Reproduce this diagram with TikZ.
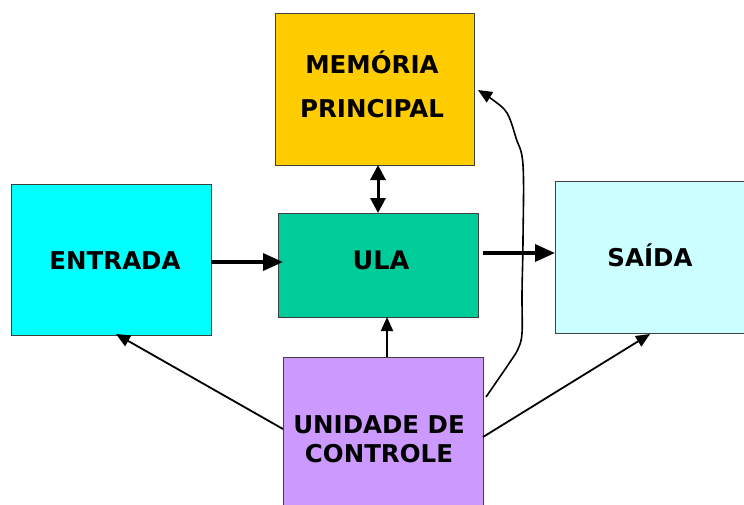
\documentclass[tikz,border=0pt]{standalone}
\usepackage{fontspec}
\setmainfont{DejaVu Sans}
\usetikzlibrary{arrows.meta}
\definecolor{memc}{HTML}{FFCC00}
\definecolor{entc}{HTML}{00FFFF}
\definecolor{ulac}{HTML}{00CC99}
\definecolor{saic}{HTML}{CCFFFF}
\definecolor{ucc}{HTML}{CC99FF}
\definecolor{edgec}{HTML}{404040}
\tikzset{
  box/.style={draw=edgec, line width=0.9pt, inner sep=0pt, outer sep=0pt},
  lbl/.style={font=\fontsize{24.5}{28}\selectfont\bfseries, inner sep=0pt, anchor=base},
  bigarrow/.style={line width=3.5pt, -{Triangle[length=20pt,width=17pt]}},
  dblarrow/.style={line width=3pt, {Triangle[length=15pt,width=15pt]}-{Triangle[length=15pt,width=15pt]}},
  thinarrow/.style={line width=1.8pt, -{Triangle[length=14pt,width=12pt]}},
}
\begin{document}
\begin{tikzpicture}[x=1pt,y=-1pt]
\useasboundingbox (0,0) rectangle (744,504);
\clip (0,0) rectangle (744,504);
\fill[white] (0,0) rectangle (744,504);
% boxes
\node[box, fill=memc, minimum width=199pt, minimum height=152pt] (mem) at (374.5,89) {};
\node[box, fill=entc, minimum width=200pt, minimum height=151pt] (ent) at (111,259.5) {};
\node[box, fill=ulac, minimum width=200pt, minimum height=104pt] (ula) at (378,265) {};
\node[box, fill=saic, minimum width=210pt, minimum height=152pt] (sai) at (660,257) {};
\node[box, fill=ucc, minimum width=200pt, minimum height=170pt] (uc) at (383,442) {};
% labels
\node[lbl] (t1) at (372,73) {MEMÓRIA};
\node[lbl] (t2) at (372,117) {PRINCIPAL};
\node[lbl] (t3) at (115,269) {ENTRADA};
\node[lbl, font=\fontsize{25.5}{28}\selectfont\bfseries] (t4) at (381,269) {ULA};
\node[lbl] (t5) at (650,266) {SAÍDA};
\node[lbl] (t6) at (379,433) {UNIDADE DE};
\node[lbl] (t7) at (379,462) {CONTROLE};
% connectors
\draw[bigarrow] (ent.east |- 0,262) -- ++(72,0);
\draw[bigarrow] (483,253) -- (sai.west |- 0,253);
\draw[dblarrow] (mem.south -| 378,0) -- (ula.north -| 378,0);
\draw[thinarrow] (uc.north -| 387,0) -- (ula.south -| 387,0);
\coordinate (ucl) at (uc.west |- 0,429);
\coordinate (ucr) at (uc.east |- 0,437);
\draw[thinarrow] (ucl) -- (116,334);
\draw[thinarrow] (ucr) -- (650,334);
\coordinate (cs) at (486,397);
\coordinate (ce) at (478,90);
\draw[line width=1.6pt, -{Triangle[length=14pt,width=12pt]}] plot[smooth, tension=0.6] coordinates {(cs) (497,381) (510,362) (518,349) (522,333) (522,293) (523,240) (523,165) (516,138) (507,113) (493,100) (ce)};
\end{tikzpicture}
\end{document}
